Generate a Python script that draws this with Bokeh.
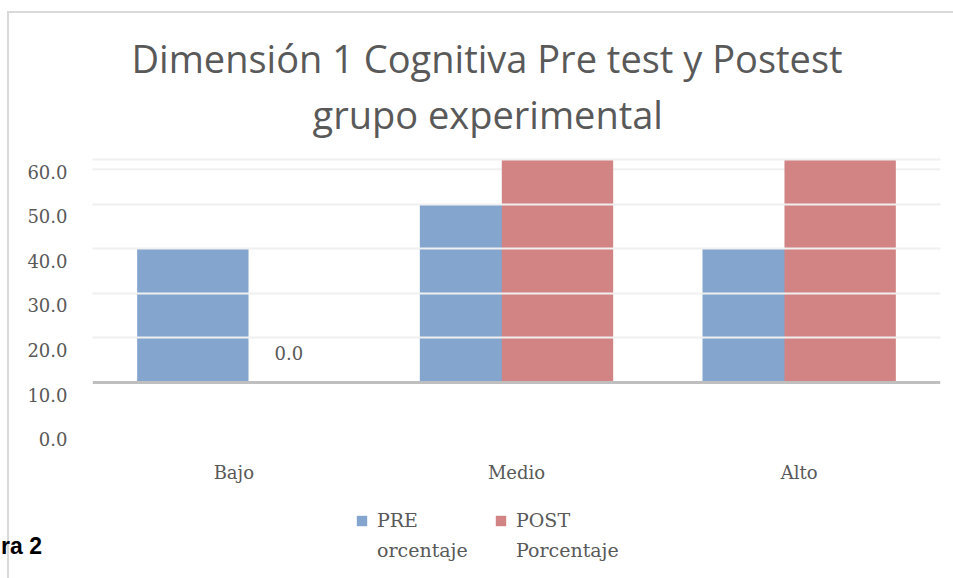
from bokeh.plotting import figure
from bokeh.layouts import column
from bokeh.models import (ColumnDataSource, Range1d, LinearAxis, FixedTicker, Span, Div,
                          Legend, LegendItem, Title, NumeralTickFormatter)
from bokeh.transform import dodge
from bokeh.core.properties import value
from bokeh.embed import file_html
from bokeh.resources import INLINE

# ---- data ----
categories = ["Bajo", "Medio", "Alto"]
pre_values = [40.0, 50.0, 40.0]
post_values = [0.0, 60.0, 60.0]
legend_line1 = ["PRE", "POST"]
legend_line2 = ["orcentaje", "Porcentaje"]
y_ticks = [0, 10, 20, 30, 40, 50, 60]
axis_cross = 10.0
title_line1 = "Dimensión 1 Cognitiva Pre test y Postest"
title_line2 = "grupo experimental"
caption_text = "ra 2"

PRE_COLOR = "#84A6CE"
POST_COLOR = "#D28383"
TXT = "#595959"
SERIF = "DejaVu Serif"

W, H = 953, 578
FRAME_L, FRAME_R, FRAME_T = 92, 940, 157
Y0, Y1 = -33.95, 60.45
LABEL_SHIFT = 2.7
CAT_LABEL_Y = -10.2

# bars are drawn from the axis crossing (10) upward, as in the source chart
pre_top = [max(v, axis_cross) for v in pre_values]
post_top = [max(v, axis_cross) for v in post_values]

src = ColumnDataSource(dict(cat=categories, pre=pre_top, post=post_top,
                            base=[axis_cross] * len(categories)))
zero_idx = [i for i, v in enumerate(post_values) if v == 0]
lab_src = ColumnDataSource(dict(cat=[categories[i] for i in zero_idx],
                                y=[axis_cross + post_values[i] for i in zero_idx],
                                txt=["%.1f" % post_values[i] for i in zero_idx]))
cat_src = ColumnDataSource(dict(cat=categories, y=[CAT_LABEL_Y] * len(categories)))

fig = figure(width=W, height=H, x_range=categories, y_range=Range1d(Y0, Y1),
             output_backend="svg", toolbar_location=None,
             min_border_left=FRAME_L, min_border_right=W - FRAME_R, min_border_top=FRAME_T,
             min_border_bottom=0)
fig.outline_line_color = None
fig.background_fill_color = "white"
fig.border_fill_color = "white"

fig.yaxis.visible = False
fig.xaxis.visible = False
fig.extra_y_ranges = {"lab": Range1d(Y0 + LABEL_SHIFT, Y1 + LABEL_SHIFT)}
yax = LinearAxis(y_range_name="lab", ticker=FixedTicker(ticks=y_ticks),
                 formatter=NumeralTickFormatter(format="0.0"))
yax.axis_line_color = None
yax.major_tick_line_color = None
yax.minor_tick_line_color = None
yax.major_label_text_font = SERIF
yax.major_label_text_font_size = "18px"
yax.major_label_text_color = TXT
yax.major_label_standoff = 19
fig.add_layout(yax, "left")

# grid
fig.xgrid.visible = False
fig.ygrid.ticker = FixedTicker(ticks=[20, 30, 40, 50, 60])
fig.ygrid.grid_line_color = "#F0F0F0"
fig.ygrid.grid_line_width = 2
fig.ygrid.level = "overlay"
fig.add_layout(Span(location=57.8, dimension="width", line_color="#F0F0F0", line_width=2, level="underlay"))

# bars
r_pre = fig.vbar(x=dodge("cat", -0.145, range=fig.x_range), top="pre", bottom="base", width=0.394,
                 source=src, fill_color=PRE_COLOR, line_color=None)
r_post = fig.vbar(x=dodge("cat", 0.145, range=fig.x_range), top="post", bottom="base", width=0.394,
                  source=src, fill_color=POST_COLOR, line_color=None)

# axis crossing line
fig.add_layout(Span(location=axis_cross, dimension="width", line_color="#BFBFBF", line_width=3, level="overlay"))

# data label
fig.text(x=dodge("cat", 0.145, range=fig.x_range), y="y", text="txt", source=lab_src,
         text_font=value(SERIF), text_font_size="18px", text_color=TXT,
         text_align="center", text_baseline="bottom", x_offset=14, y_offset=-22)

# category labels
fig.text(x="cat", y="y", text="cat", source=cat_src,
         text_font=value(SERIF), text_font_size="18px", text_color=TXT,
         text_align="center", text_baseline="middle")

# legends (line 1 with swatches, line 2 text only)
common = dict(orientation="horizontal", label_text_font=SERIF, label_text_font_size="19px",
              label_text_color=TXT, label_width=100, spacing=17, padding=0, margin=0,
              border_line_color=None, background_fill_alpha=0)
legA = Legend(items=[LegendItem(label=legend_line1[0], renderers=[r_pre]),
                     LegendItem(label=legend_line1[1], renderers=[r_post])],
              location=(263, 47), glyph_width=13, glyph_height=13, label_standoff=9, **common)
legB = Legend(items=[LegendItem(label=legend_line2[0], renderers=[r_pre]),
                     LegendItem(label=legend_line2[1], renderers=[r_post])],
              location=(263, 17), glyph_width=0, glyph_height=13, label_standoff=22, **common)
fig.add_layout(legA)
fig.add_layout(legB)

# title (two lines, nearest-frame first), left aligned with offsets so each centres at x~487
fig.add_layout(Title(text=title_line2, align="left", text_font="Open Sans", text_font_size="38px",
                     text_font_style="normal", text_color=TXT, standoff=35, offset=220), "above")
fig.add_layout(Title(text=title_line1, align="left", text_font="Open Sans", text_font_size="38px",
                     text_font_style="normal", text_color=TXT, standoff=-30, offset=39), "above")

# chart border (light grey, top and left) and caption fragment
border = Div(text="", margin=0, width=10, height=10,
             styles={"position": "absolute", "left": "7px", "top": "11px",
                     "width": "946px", "height": "567px", "box-sizing": "border-box",
                     "border-top": "2px solid #D9D9D9", "border-left": "2px solid #D9D9D9",
                     "background": "transparent", "pointer-events": "none"})
caption = Div(text="<span style=\"font-family:'Liberation Sans';font-weight:bold;font-size:23px;"
                   "color:#000000;line-height:24px;white-space:nowrap\">" + caption_text + "</span>",
              margin=0, width=60, height=24,
              styles={"position": "absolute", "left": "1px", "top": "534px"})

p = column(fig, border, caption, spacing=0)
open("out.html", "w").write(file_html(p, INLINE))
